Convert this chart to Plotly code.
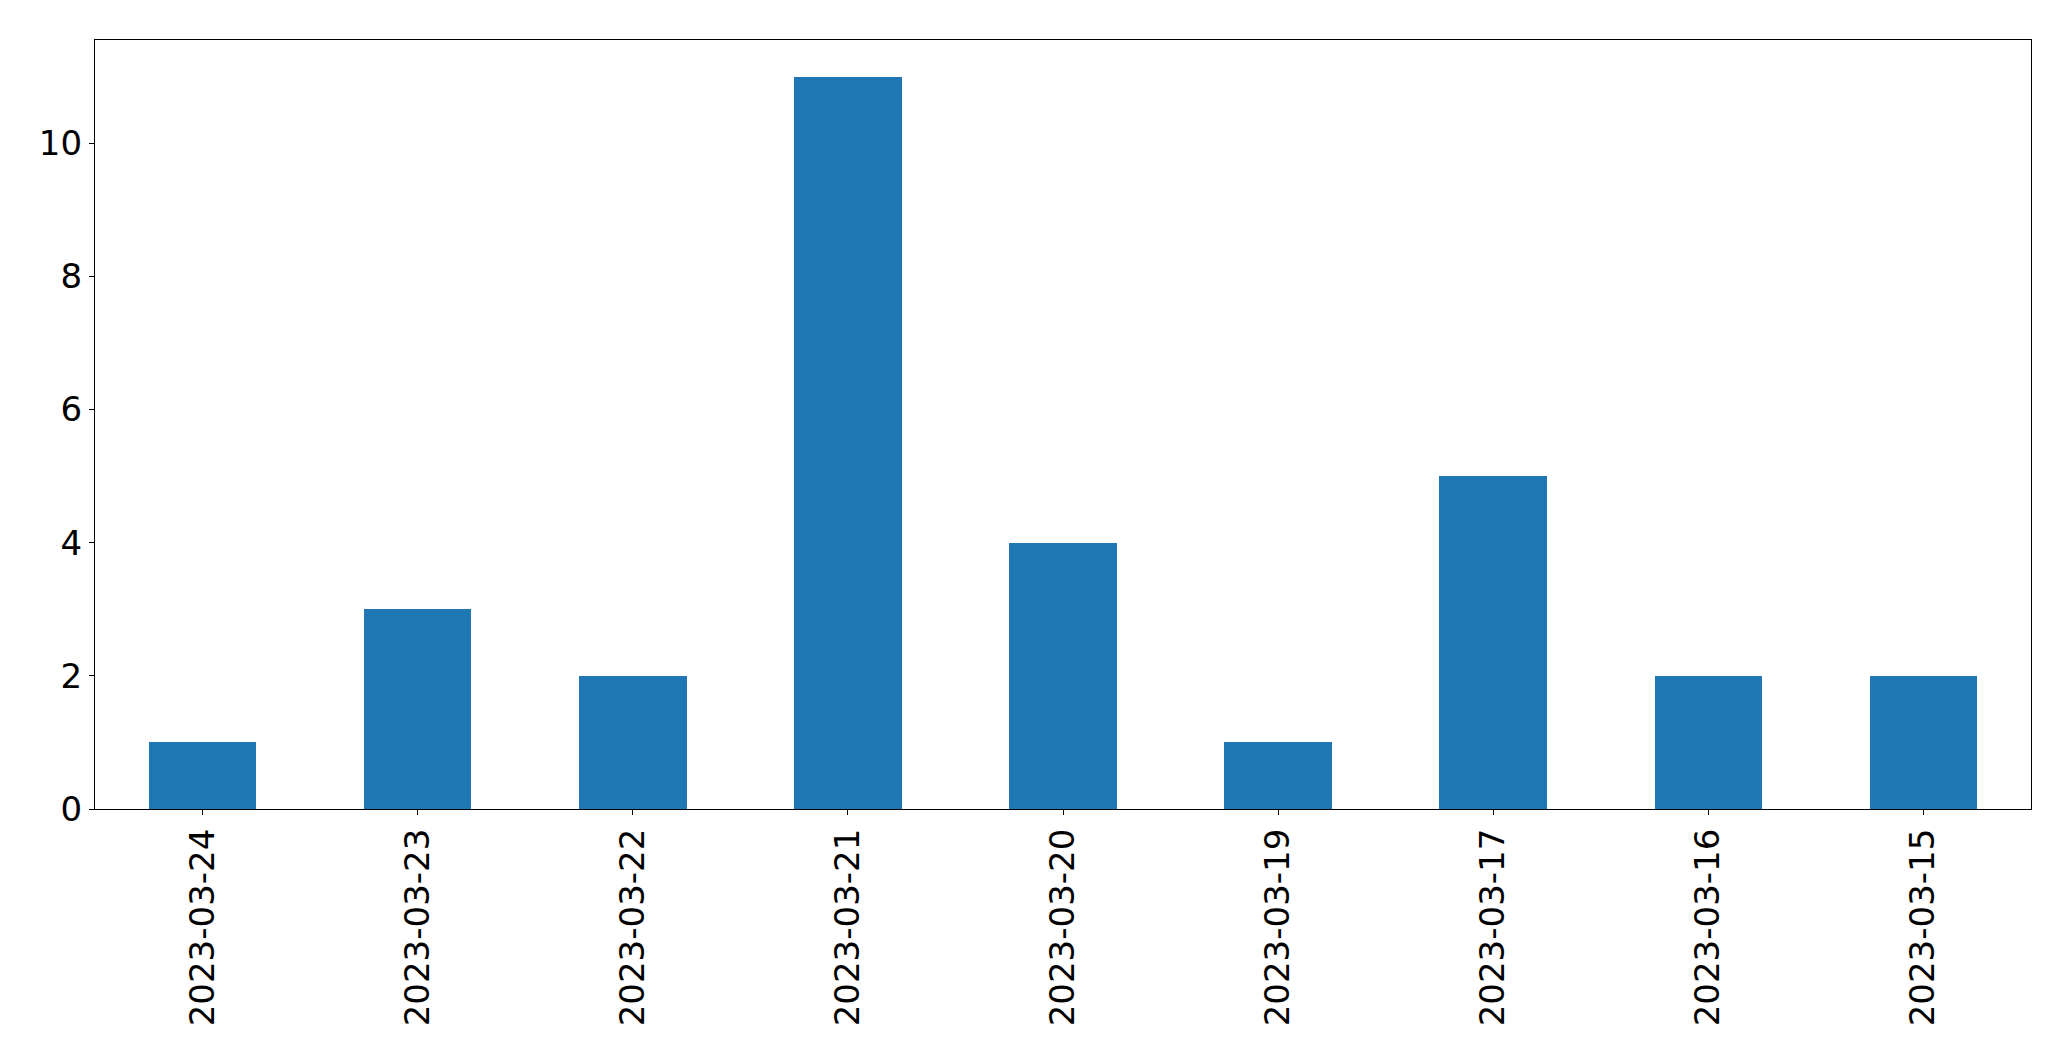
import plotly.graph_objects as go

dates = ["2023-03-24", "2023-03-23", "2023-03-22", "2023-03-21", "2023-03-20",
         "2023-03-19", "2023-03-17", "2023-03-16", "2023-03-15"]
counts = [1, 3, 2, 11, 4, 1, 5, 2, 2]
y_ticks = [0, 2, 4, 6, 8, 10]

fig = go.Figure(go.Bar(x=dates, y=counts, width=0.5, marker=dict(color="#1f77b4", line=dict(width=0))))

fig.update_layout(
    width=2071, height=1061,
    margin=dict(l=86.5, r=47.5, t=31.5, b=260),
    plot_bgcolor="white", paper_bgcolor="white",
    font=dict(family="DejaVu Sans", size=34, color="black"),
    showlegend=False,
    bargap=0,
)
fig.update_xaxes(
    type="category", range=[-0.5, 8.5], tickangle=-90,
    showline=True, linecolor="black", linewidth=1.2, mirror=True,
    ticks="outside", ticklen=5, tickwidth=1.2, tickcolor="black",
    showgrid=False, zeroline=False,
)
fig.update_yaxes(
    range=[0, 11.55], tickvals=y_ticks,
    showline=True, linecolor="black", linewidth=1.2, mirror=True,
    ticks="outside", ticklen=5, tickwidth=1.2, tickcolor="black",
    showgrid=False, zeroline=False,
)

fig.write_html("out.html")
